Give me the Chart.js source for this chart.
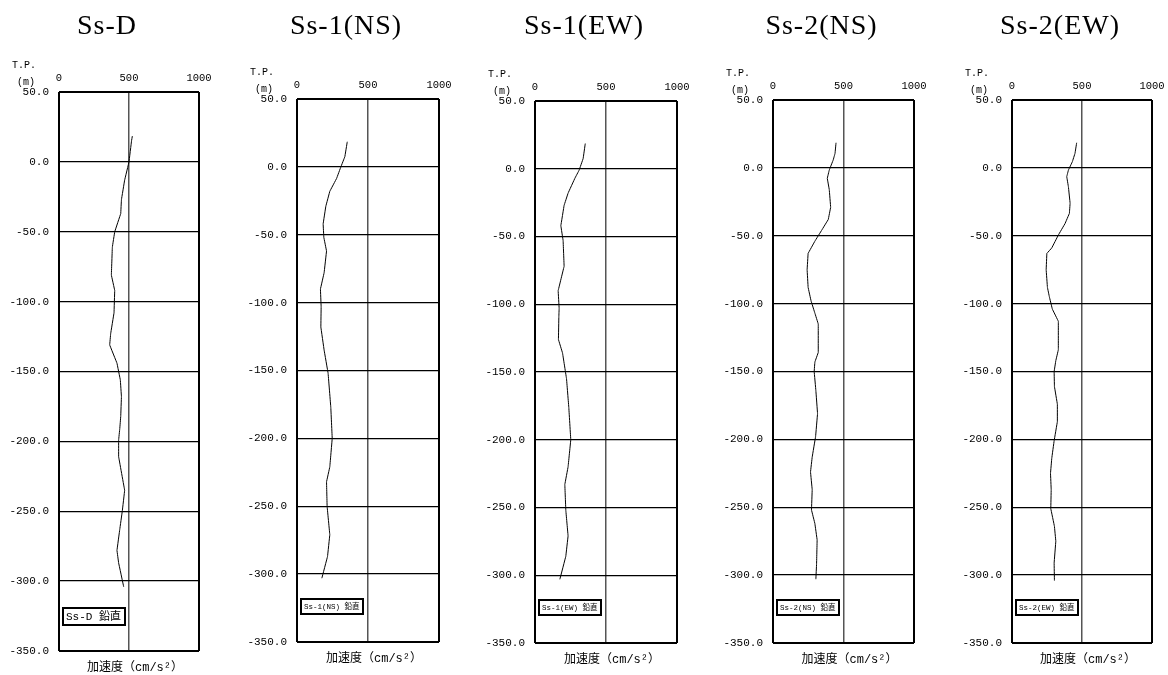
<!DOCTYPE html>
<html lang="ja">
<head>
<meta charset="utf-8">
<title>鉛直方向 最大加速度分布</title>
<script src="https://cdn.jsdelivr.net/npm/chart.js@4.4.1/dist/chart.umd.min.js"></script>
<style>
  html, body { margin: 0; padding: 0; background: #fff; }
  #wrap { position: relative; width: 1168px; height: 675px; overflow: hidden; }
  #wrap canvas { position: absolute; top: 0; }
</style>
</head>
<body>
<div id="wrap"></div>
<script>
// 標高 T.P.(m) と最大加速度 (cm/s2) ― 図から読み取った値

// Ss-D
const ssdDepth = [18.5, 15, 0, -13, -27, -37, -50, -61, -81, -92, -108, -123, -131, -144, -156, -168, -182, -191, -199, -211, -235, -250, -263, -278, -287, -304];
const ssdAcc   = [524, 518, 500, 469, 446, 441, 398, 381, 374, 398, 393, 369, 362, 414, 438, 446, 441, 434, 426, 426, 469, 452, 434, 414, 426, 462];

// Ss-1(NS)
const ss1nsDepth = [18.5, 7.5, 0, -8.5, -18, -29, -42, -52, -62, -78, -90, -103, -118, -135, -152, -177, -200, -221, -232, -250, -271, -287, -303];
const ss1nsAcc   = [354, 337, 309, 279, 231, 203, 184, 189, 208, 191, 165, 170, 168, 191, 219, 238, 248, 231, 208, 212, 231, 215, 175];

// Ss-1(EW)
const ss1ewDepth = [18.6, 7.5, -1, -7, -18, -27, -42, -53, -72, -90, -103, -109, -126, -136, -155, -176, -200, -220, -233, -252, -271, -286, -303];
const ss1ewAcc   = [354, 339, 311, 281, 233, 205, 182, 198, 205, 163, 170, 168, 165, 194, 222, 238, 252, 233, 210, 217, 233, 217, 175];

// Ss-2(NS)
const ss2nsDepth = [18.5, 10.7, 5.8, -1.6, -7.7, -16, -29, -38, -46, -54, -63, -75, -88, -98, -107, -115, -136, -143, -150, -164, -181, -198, -213, -224, -237, -252, -262, -274, -292, -303];
const ss2nsAcc   = [447, 440, 427, 399, 385, 399, 409, 392, 345, 297, 249, 242, 249, 270, 297, 321, 321, 297, 292, 304, 316, 302, 278, 266, 278, 273, 297, 313, 309, 304];

// Ss-2(EW)
const ss2ewDepth = [18.5, 10.7, 4.5, -1.6, -6.5, -14, -26, -33.5, -41, -49.5, -59, -63, -75, -88, -95, -104, -113, -134, -142, -150, -161, -174, -187, -201, -214, -225, -237, -251, -264, -275, -291, -304];
const ss2ewAcc   = [462, 450, 431, 403, 391, 403, 415, 410, 379, 331, 284, 249, 244, 253, 267, 288, 331, 331, 313, 301, 303, 324, 324, 301, 284, 275, 280, 277, 303, 313, 301, 303];

const panelTitles  = ['Ss-D', 'Ss-1(NS)', 'Ss-1(EW)', 'Ss-2(NS)', 'Ss-2(EW)'];
const legendLabels = ['Ss-D 鉛直', 'Ss-1(NS) 鉛直', 'Ss-1(EW) 鉛直', 'Ss-2(NS) 鉛直', 'Ss-2(EW) 鉛直'];
const depthSeries  = [ssdDepth, ss1nsDepth, ss1ewDepth, ss2nsDepth, ss2ewDepth];
const accSeries    = [ssdAcc, ss1nsAcc, ss1ewAcc, ss2nsAcc, ss2ewAcc];

const accMin = 0, accMax = 1000, accStep = 500;
const elevMin = -350, elevMax = 50, elevStep = 50;
const unitLabel = ['T.P.', '(m)'];
const axisTitle = '加速度（cm/s²）';

// プロット枠の位置（ページ座標）
const frames = [
    { left: 59,   top: 92,  right: 199,  bottom: 651, legendFont: 11,  legendH: 17 },
    { left: 297,  top: 99,  right: 439,  bottom: 642, legendFont: 7.5, legendH: 15 },
    { left: 535,  top: 101, right: 677,  bottom: 643, legendFont: 7.5, legendH: 15 },
    { left: 773,  top: 100, right: 914,  bottom: 643, legendFont: 7.5, legendH: 15 },
    { left: 1012, top: 100, right: 1152, bottom: 643, legendFont: 7.5, legendH: 15 }
];

const FONT = '"Liberation Mono", "Noto Sans CJK JP", monospace';
const TITLE_FONT = '"Liberation Serif", serif';
const Y_AXIS_W = 70;
const X_AXIS_H = 22;
const RIGHT_PAD = 30;

// タイトル・単位・凡例枠を描くプラグイン
const decorPlugin = {
    id: 'decor',
    afterDraw(chart, args, opts) {
        const { ctx, chartArea: a } = chart;
        const cx = (a.left + a.right) / 2;
        ctx.save();
        ctx.fillStyle = '#000';
        ctx.textBaseline = 'middle';

        ctx.font = '28px ' + TITLE_FONT;
        ctx.textAlign = 'center';
        ctx.letterSpacing = '1px';
        ctx.fillText(opts.title, cx - 22, 27);
        ctx.letterSpacing = '0px';

        ctx.font = '10px ' + FONT;
        ctx.textAlign = 'left';
        ctx.fillText(unitLabel[0], a.left - 47, a.top - 27);
        ctx.fillText(unitLabel[1], a.left - 42, a.top - 10);

        ctx.font = '12px ' + FONT;
        ctx.textAlign = 'center';
        ctx.fillText(axisTitle, cx + 6, a.bottom + 17);

        // 凡例枠
        const bx = a.left + 4, by = a.bottom - 43, bw = 62, bh = opts.legendH;
        ctx.fillStyle = '#fff';
        ctx.fillRect(bx, by, bw, bh);
        ctx.strokeStyle = '#000';
        ctx.lineWidth = 2;
        ctx.strokeRect(bx, by, bw, bh);
        ctx.fillStyle = '#000';
        ctx.font = opts.legendFont + 'px ' + FONT;
        ctx.textAlign = 'left';
        ctx.fillText(opts.legend, bx + 3, by + bh / 2 + 0.5);
        ctx.restore();
    }
};

const wrap = document.getElementById('wrap');

frames.forEach((f, i) => {
    const canvas = document.createElement('canvas');
    const w = f.right - f.left + Y_AXIS_W + RIGHT_PAD;
    canvas.width = w;
    canvas.height = 675;
    canvas.style.left = (f.left - Y_AXIS_W) + 'px';
    canvas.style.width = w + 'px';
    canvas.style.height = '675px';
    wrap.appendChild(canvas);

    const points = depthSeries[i].map((d, k) => ({ x: accSeries[i][k], y: d }));

    new Chart(canvas.getContext('2d'), {
        type: 'scatter',
        data: {
            datasets: [{
                label: legendLabels[i],
                data: points,
                showLine: true,
                borderColor: '#000',
                borderWidth: 1,
                pointRadius: 0,
                // tension をわずかに与えて fast path（x 単調前提）を避ける
                tension: 0.001
            }]
        },
        options: {
            responsive: false,
            animation: false,
            layout: {
                padding: { left: 0, top: f.top - X_AXIS_H, right: RIGHT_PAD, bottom: 675 - f.bottom }
            },
            plugins: {
                legend: { display: false },
                tooltip: { enabled: false },
                decor: { title: panelTitles[i], legend: legendLabels[i], legendFont: f.legendFont, legendH: f.legendH }
            },
            scales: {
                x: {
                    type: 'linear',
                    position: 'top',
                    min: accMin,
                    max: accMax,
                    afterFit: s => { s.height = X_AXIS_H; },
                    ticks: {
                        stepSize: accStep,
                        padding: 7,
                        color: '#000',
                        font: { family: FONT, size: 10.5 },
                        maxRotation: 0,
                        callback: v => String(v)
                    },
                    grid: {
                        drawTicks: false,
                        color: c => (c.tick && c.tick.value === 500) ? '#555' : '#000',
                        lineWidth: c => (c.tick && c.tick.value === 500) ? 1.5 : 2
                    },
                    border: { display: false }
                },
                y: {
                    type: 'linear',
                    min: elevMin,
                    max: elevMax,
                    afterFit: s => { s.width = Y_AXIS_W; },
                    ticks: {
                        stepSize: elevStep,
                        padding: 10,
                        color: '#000',
                        font: { family: FONT, size: 11 },
                        callback: v => v.toFixed(1)
                    },
                    grid: {
                        drawTicks: false,
                        color: '#000',
                        lineWidth: c => (c.tick && (c.tick.value === elevMin || c.tick.value === elevMax)) ? 2 : 1.3
                    },
                    border: { display: false }
                }
            }
        },
        plugins: [decorPlugin]
    });
});
</script>
</body>
</html>
